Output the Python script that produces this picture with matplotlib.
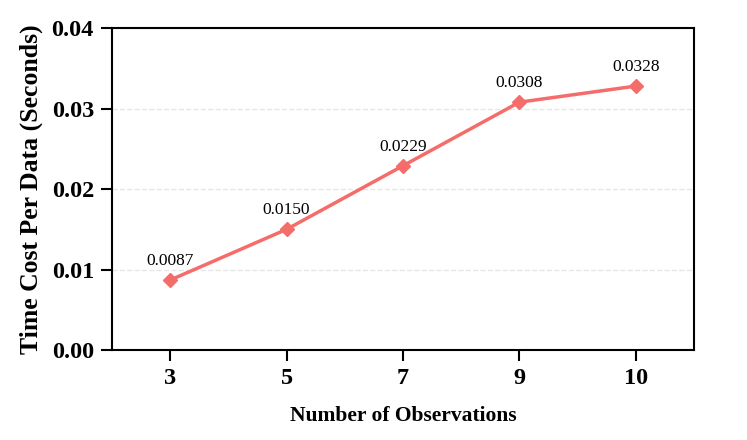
import matplotlib
matplotlib.use('Agg')
import matplotlib.pyplot as plt

# Data.
observations = ['3', '5', '7', '9', '10']
time_cost = [0.0087, 0.0150, 0.0229, 0.0308, 0.0328]
y_ticks = [0.00, 0.01, 0.02, 0.03, 0.04]

plt.rcParams['font.family'] = ['Liberation Serif', 'DejaVu Serif']

fig = plt.figure(figsize=(7.47, 4.4), dpi=100)
ax = fig.add_axes([0.150, 0.2045, 0.779, 0.7315])

xs = list(range(len(observations)))
ax.plot(xs, time_cost, color='#f46d6a', linewidth=2.5, marker='D', markersize=7, zorder=3)

# Value labels above each point.
for x, y in zip(xs, time_cost):
  ax.annotate(f'{y:.4f}', (x, y), xytext=(0, 8), textcoords='offset points',
              ha='center', va='bottom', fontsize=12.5)

ax.set_xlim(-0.5, 4.5)
ax.set_ylim(0, 0.04)
ax.set_xticks(xs)
ax.set_xticklabels(observations)
ax.set_yticks(y_ticks)
ax.set_yticklabels([f'{t:.2f}' for t in y_ticks])

for lbl in ax.get_xticklabels() + ax.get_yticklabels():
  lbl.set_fontweight('bold')
  lbl.set_fontsize(17.5)

ax.tick_params(axis='both', direction='out', length=8, width=1.5, pad=5)
for spine in ax.spines.values():
  spine.set_linewidth(1.5)

ax.yaxis.grid(True, linestyle='--', color='#e6e6e6', linewidth=1)
ax.set_axisbelow(True)

ax.set_xlabel('Number of Observations', fontsize=15.5, fontweight='bold', labelpad=12)
ax.set_ylabel('Time Cost Per Data (Seconds)', fontsize=18.5, fontweight='bold', labelpad=6)

fig.savefig('out.png', dpi=100)
